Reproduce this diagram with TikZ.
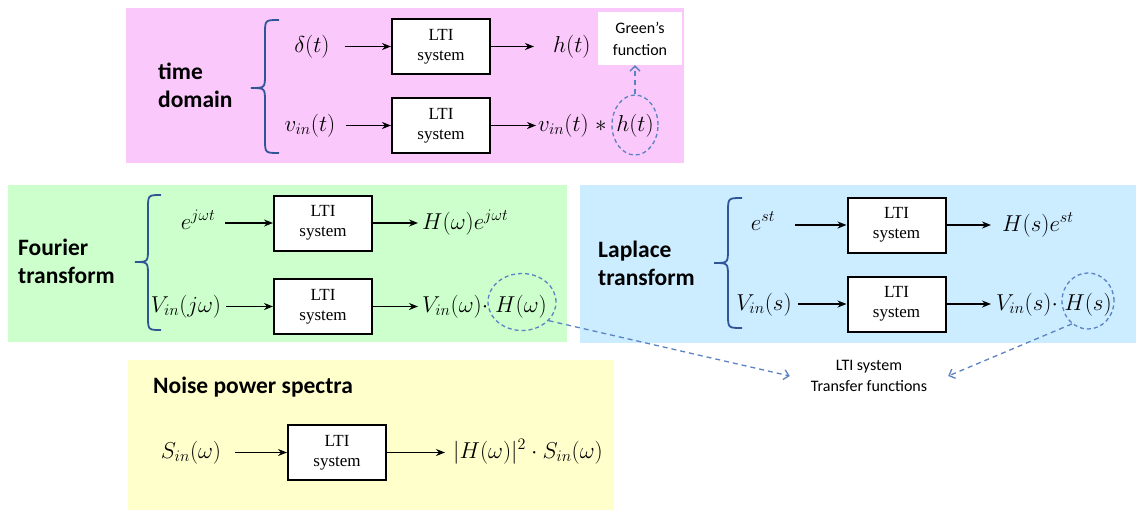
\RequirePackage{fix-cm}
\documentclass[tikz,border=0pt]{standalone}
\usepackage{fontspec}
\setmainfont{Liberation Serif}
\newfontfamily\labelfont{Carlito}
\usetikzlibrary{arrows.meta,shapes.geometric,calc}

\definecolor{pinkbg}{RGB}{250,200,250}
\definecolor{greenbg}{RGB}{204,255,204}
\definecolor{bluebg}{RGB}{204,236,255}
\definecolor{yellowbg}{RGB}{255,255,204}
\definecolor{braceblue}{RGB}{47,85,151}
\definecolor{dashblue}{RGB}{91,130,195}

% left curly brace: tip x, stem x, end x, top y, middle y, bottom y
\newcommand\curlybrace[6]{%
  \draw[brc] (#3,#4) .. controls (#2,#4) .. (#2,#4+14)
    -- (#2,#5-14) .. controls (#2,#5) .. (#1,#5)
    .. controls (#2,#5) .. (#2,#5+14)
    -- (#2,#6-14) .. controls (#2,#6) .. (#3,#6);}

\begin{document}
\begin{tikzpicture}[x=1pt,y=-1pt,
  ltibox/.style={draw=black, line width=2pt, fill=white, minimum width=98pt,
    minimum height=55pt, inner sep=0pt, align=center,
    font=\fontsize{17}{20}\selectfont},
  mtxt/.style={inner sep=0pt, anchor=base, font=\fontsize{23}{27}\selectfont},
  grp/.style={inner sep=0pt, align=left, anchor=west,
    font=\labelfont\bfseries\fontsize{23.5}{28}\selectfont},
  notebox/.style={fill=white, inner sep=0pt, align=center},
  sig/.style={line width=1.6pt, -{Stealth[length=9pt,width=7pt]}},
  brc/.style={draw=braceblue, line width=1.8pt},
  ring/.style={ellipse, draw=dashblue, dash pattern=on 4pt off 3pt,
    line width=1.3pt, inner sep=0pt},
  link/.style={draw=dashblue, line width=1.3pt, dash pattern=on 5pt off 4pt,
    -{Straight Barb[length=5pt,width=10pt]}},
]
\useasboundingbox (0,0) rectangle (1136,512);

% ---------------- time domain ----------------
\fill[pinkbg] (126,8) rectangle (684,163);
\node[grp] (tlab) at (158,85) {time\\domain};
\curlybrace{251}{265}{279}{20}{88}{153}
\node[mtxt] (d1) at (312,52) {$\delta(t)$};
\node[ltibox] (tb1) at (441,46.5) {LTI\\system};
\node[mtxt, anchor=base west] (h1) at (553,52) {$h(t)$};
\node[notebox, minimum width=84pt, minimum height=53pt,
  font=\labelfont\fontsize{16}{22}\selectfont] (gf) at (640,38.5) {Green’s\\function};
\draw[sig, shorten <=15pt] (d1.east |- tb1.west) -- (tb1.west);
\draw[sig, shorten >=19pt] (tb1.east) -- (h1.west |- tb1.east);

\node[mtxt] (v1) at (310,131) {$v_{in}(t)$};
\node[ltibox] (tb2) at (441,125.5) {LTI\\system};
\node[mtxt, anchor=base west] (conv) at (538,131) {$v_{in}(t)\;\ast$};
\node[mtxt] (h2) at (635,131) {$h(t)$};
\node[ring, minimum width=46pt, minimum height=60pt] (eT) at (635,125) {};
\draw[sig, shorten <=10pt] (v1.east |- tb2.west) -- (tb2.west);
\draw[sig, shorten >=2pt] (tb2.east) -- (conv.west |- tb2.east);
\draw[link] (eT.north) -- (eT.north |- gf.south);

% ---------------- Fourier transform ----------------
\fill[greenbg] (8,185) rectangle (567,342);
\node[grp] (flab) at (18,261) {Fourier\\transform};
\curlybrace{135}{148}{161}{195}{262}{330}
\node[mtxt] (ein) at (198,229) {$e^{j\omega t}$};
\node[ltibox] (fb1) at (323,223) {LTI\\system};
\node[mtxt, anchor=base west] (fo1) at (422,229) {$H(\omega)e^{j\omega t}$};
\draw[sig, shorten <=10pt] (ein.east |- fb1.west) -- (fb1.west);
\draw[sig, shorten >=4pt] (fb1.east) -- (fo1.west |- fb1.east);

\node[mtxt] (vj) at (186,312) {$V_{in}(j\omega)$};
\node[ltibox] (fb2) at (323,306.5) {LTI\\system};
\node[mtxt, anchor=base west] (fo2) at (422,312) {$V_{in}(\omega)\cdot$};
\node[mtxt] (hw) at (521,312) {$H(\omega)$};
\node[ring, minimum width=68pt, minimum height=57pt] (eF) at (522,302) {};
\draw[sig, shorten <=5pt] (vj.east |- fb2.west) -- (fb2.west);
\draw[sig, shorten >=4pt] (fb2.east) -- (fo2.west |- fb2.east);

% ---------------- Laplace transform ----------------
\fill[bluebg] (580,185) rectangle (1136,343);
\node[grp] (llab) at (598,263) {Laplace\\transform};
\curlybrace{714}{728}{742}{198}{263}{328}
\node[mtxt] (est) at (763,230) {$e^{st}$};
\node[ltibox] (lb1) at (896.5,225) {LTI\\system};
\node[mtxt, anchor=base west] (lo1) at (1002,231) {$H(s)e^{st}$};
\draw[sig, shorten <=20pt] (est.east |- lb1.west) -- (lb1.west);
\draw[sig, shorten >=11pt] (lb1.east) -- (lo1.west |- lb1.east);

\node[mtxt] (vs) at (764,310) {$V_{in}(s)$};
\node[ltibox] (lb2) at (896.5,304) {LTI\\system};
\node[mtxt, anchor=base west] (lo2) at (996,310) {$V_{in}(s)\cdot$};
\node[mtxt] (hs) at (1088,310) {$H(s)$};
\node[ring, minimum width=52pt, minimum height=56pt] (eL) at (1088,301) {};
\draw[sig, shorten <=6pt] (vs.east |- lb2.west) -- (lb2.west);
\draw[sig, shorten >=5pt] (lb2.east) -- (lo2.west |- lb2.east);

% ---------------- noise power spectra ----------------
\fill[yellowbg] (128,360) rectangle (614,510);
\node[grp] (nlab) at (153,387) {Noise power spectra};
\node[mtxt] (sin) at (191,458) {$S_{in}(\omega)$};
\node[ltibox] (nb) at (337,452.5) {LTI\\system};
\node[mtxt, anchor=base west] (no) at (453,458) {$|H(\omega)|^2\cdot S_{in}(\omega)$};
\draw[sig, shorten <=14pt] (sin.east |- nb.west) -- (nb.west);
\draw[sig, shorten >=8pt] (nb.east) -- (no.west |- nb.east);

% ---------------- transfer function note ----------------
\node[notebox, minimum width=158pt, minimum height=52pt,
  font=\labelfont\fontsize{16}{21}\selectfont] (tf) at (869,376)
  {LTI system\\Transfer functions};
\draw[link] (eF.-35) -- (tf.west);
\draw[link] (eL.-125) -- (tf.east);
\end{tikzpicture}
\end{document}
